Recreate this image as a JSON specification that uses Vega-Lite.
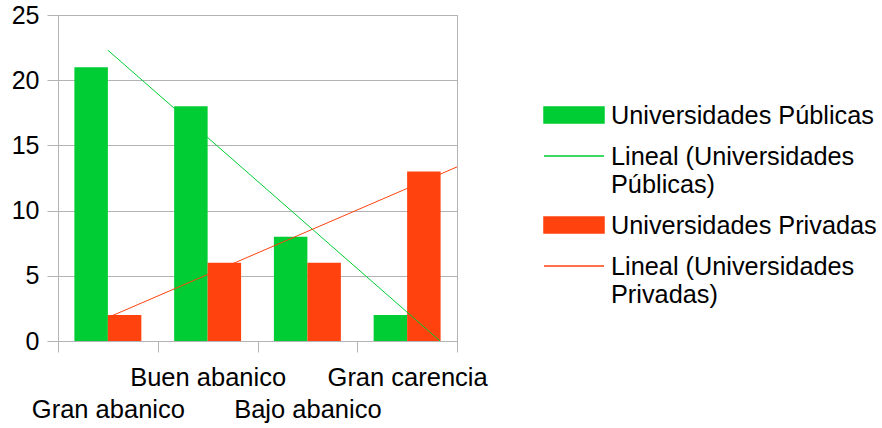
{
  "$schema": "https://vega.github.io/schema/vega-lite/v6.json",
  "width": 399,
  "height": 326,
  "autosize": {"type": "none"},
  "padding": {"left": 58, "top": 15, "right": 425, "bottom": 87},
  "config": {
    "font": "Liberation Sans",
    "view": {"stroke": "#b3b3b3", "strokeWidth": 1}
  },
  "datasets": {
    "bars": [
      {"categoria": "Gran abanico", "serie": "Universidades Públicas", "valor": 21},
      {"categoria": "Gran abanico", "serie": "Universidades Privadas", "valor": 2},
      {"categoria": "Buen abanico", "serie": "Universidades Públicas", "valor": 18},
      {"categoria": "Buen abanico", "serie": "Universidades Privadas", "valor": 6},
      {"categoria": "Bajo abanico", "serie": "Universidades Públicas", "valor": 8},
      {"categoria": "Bajo abanico", "serie": "Universidades Privadas", "valor": 6},
      {"categoria": "Gran carencia", "serie": "Universidades Públicas", "valor": 2},
      {"categoria": "Gran carencia", "serie": "Universidades Privadas", "valor": 13}
    ],
    "trends": [
      {"serie": "Lineal (Universidades Públicas)", "t": 1, "valor": 22.3},
      {"serie": "Lineal (Universidades Públicas)", "t": 4.33, "valor": 0},
      {"serie": "Lineal (Universidades Privadas)", "t": 1, "valor": 1.8},
      {"serie": "Lineal (Universidades Privadas)", "t": 4.5, "valor": 13.35}
    ]
  },
  "layer": [
    {
      "data": {"name": "bars"},
      "mark": {"type": "bar"},
      "encoding": {
        "x": {
          "field": "categoria",
          "type": "nominal",
          "sort": ["Gran abanico", "Buen abanico", "Bajo abanico", "Gran carencia"],
          "scale": {"paddingInner": 0, "paddingOuter": 0},
          "axis": {
            "title": null,
            "labelAngle": 0,
            "tickBand": "extent",
            "tickSize": 11,
            "tickColor": "#b3b3b3",
            "domainColor": "#b3b3b3",
            "labelFontSize": 25.5,
            "labelFont": "Liberation Sans",
            "labelColor": "#000000",
            "labelOverlap": false,
            "labelBound": false,
            "labelBaseline": "top",
            "labelPadding": {
              "condition": {"test": "datum.value === 'Gran abanico' || datum.value === 'Bajo abanico'", "value": 45},
              "value": 13
            }
          }
        },
        "xOffset": {
          "field": "serie",
          "type": "nominal",
          "scale": {"domain": ["Universidades Públicas", "Universidades Privadas"], "paddingInner": 0, "paddingOuter": 0.49}
        },
        "y": {
          "field": "valor",
          "type": "quantitative",
          "scale": {"domain": [0, 25], "nice": false},
          "axis": {
            "title": null,
            "values": [0, 5, 10, 15, 20, 25],
            "grid": true,
            "gridColor": "#b3b3b3",
            "domainColor": "#b3b3b3",
            "tickColor": "#b3b3b3",
            "tickSize": 11,
            "labelFontSize": 25,
            "labelFont": "Liberation Sans",
            "labelColor": "#000000",
            "labelPadding": 8
          }
        },
        "color": {
          "field": "serie",
          "type": "nominal",
          "scale": {
            "domain": ["Universidades Públicas", "Lineal (Universidades Públicas)", "Universidades Privadas", "Lineal (Universidades Privadas)"],
            "range": ["#00cc33", "#00cc33", "#ff420e", "#ff420e"]
          },
          "legend": {
            "title": null,
            "orient": "none",
            "legendX": 485,
            "legendY": 88,
            "padding": 0,
            "symbolSize": 3600,
            "labelFontSize": 25.3,
            "labelFont": "Liberation Sans",
            "labelColor": "#000000",
            "labelLimit": 400,
            "labelOffset": 6,
            "labelBaseline": "top",
            "rowPadding": 14,
            "labelExpr": "indexof(datum.label, 'Lineal') === 0 ? [substring(datum.label, 0, 21), substring(datum.label, 22)] : [datum.label]",
            "encode": {
              "symbols": {
                "update": {
                  "y": {"value": 12},
                  "shape": {"signal": "indexof(datum.value, 'Lineal') === 0 ? 'M-1,0H1' : 'M-1,-0.267H1V0.267H-1Z'"},
                  "fill": {"signal": "indexof(datum.value, 'Lineal') === 0 ? 'transparent' : (indexof(datum.value, 'Públicas') >= 0 ? '#00cc33' : '#ff420e')"},
                  "stroke": {"signal": "indexof(datum.value, 'Lineal') === 0 ? (indexof(datum.value, 'Públicas') >= 0 ? '#00cc33' : '#ff420e') : 'transparent'"},
                  "strokeWidth": {"value": 1.5},
                  "opacity": {"value": 1}
                }
              },
              "labels": {
                "update": {
                  "y": {"value": 12},
                  "lineHeight": {"value": 28},
                  "dy": {"value": -11}
                }
              }
            }
          }
        }
      }
    },
    {
      "data": {"name": "trends"},
      "mark": {"type": "line", "strokeWidth": 1},
      "encoding": {
        "x": {
          "field": "t",
          "type": "quantitative",
          "scale": {"domain": [0.5, 4.5], "nice": false, "zero": false},
          "axis": null
        },
        "y": {"field": "valor", "type": "quantitative"},
        "color": {"field": "serie", "type": "nominal"}
      }
    }
  ],
  "resolve": {"scale": {"x": "independent"}}
}
